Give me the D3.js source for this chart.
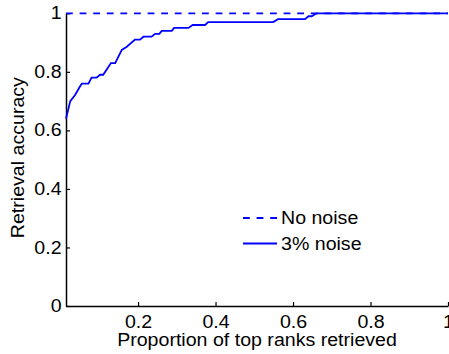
<!DOCTYPE html>
<html>
<head>
<meta charset="utf-8">
<script src="https://cdn.jsdelivr.net/npm/d3@7"></script>
<style>
  body { margin: 0; background: #fff; }
  text { font-family: "Liberation Sans", Arial, sans-serif; }
</style>
</head>
<body>
<div id="chart"></div>
<script>
// proportion of top ranks retrieved (x) and retrieval accuracy with 3% noise (y)
const proportion = [0.014, 0.025, 0.037, 0.050, 0.055, 0.072, 0.080, 0.093, 0.102, 0.110,
    0.130, 0.141, 0.158, 0.171, 0.192, 0.205, 0.214, 0.235, 0.244, 0.255,
    0.261, 0.287, 0.293, 0.330, 0.341, 0.373, 0.381, 0.549, 0.561, 0.631,
    0.640, 0.648, 0.661, 1.000];
const noisyAcc = [0.64, 0.70, 0.72, 0.75, 0.76, 0.76, 0.78, 0.78, 0.79, 0.79,
    0.83, 0.83, 0.875, 0.886, 0.91, 0.91, 0.92, 0.92, 0.93, 0.93,
    0.94, 0.94, 0.95, 0.95, 0.96, 0.96, 0.97, 0.97, 0.98, 0.98,
    0.99, 0.99, 1.00, 1.00];
// no noise: perfect accuracy everywhere
const cleanX = [0.014, 1.0];
const cleanAcc = [1.0, 1.0];

const xTicks = [0.2, 0.4, 0.6, 0.8, 1];
const yTicks = [0, 0.2, 0.4, 0.6, 0.8, 1];
const seriesNames = ["No noise", "3% noise"];

const W = 449, H = 354;
const margin = {top: 13.3, right: 1, bottom: 48, left: 66};
const width = W - margin.left - margin.right,
      height = H - margin.top - margin.bottom;

const svg = d3.select("#chart").append("svg")
    .attr("width", W)
    .attr("height", H);

const g = svg.append("g")
    .attr("transform", `translate(${margin.left},${margin.top})`);

const x = d3.scaleLinear().domain([0.014, 1]).range([0, width]);
const y = d3.scaleLinear().domain([0, 1]).range([height, 0]);

const fontSize = 17.5;
const stretch = 1.12; // the original glyphs are a bit wider than Arial
const blue = "#0000ff";

// axes, ticks pointing inward like matlab
const xAxis = g.append("g")
    .attr("transform", `translate(0,${height})`)
    .call(d3.axisBottom(x).tickValues(xTicks).tickFormat(d3.format("")).tickSizeInner(-4).tickSizeOuter(0).tickPadding(10));
const yAxis = g.append("g")
    .call(d3.axisLeft(y).tickValues(yTicks).tickFormat(d3.format("")).tickSizeInner(-4).tickSizeOuter(0).tickPadding(4));

[xAxis, yAxis].forEach(a => {
    a.select(".domain").attr("stroke", "#000").attr("stroke-width", 1.5);
    a.selectAll(".tick line").attr("stroke", "#000").attr("stroke-width", 1.2);
    a.selectAll(".tick text").attr("fill", "#000").style("font-size", fontSize + "px")
        .style("font-family", "'Liberation Sans', Arial, sans-serif")
        .attr("transform", `scale(${stretch},1)`);
});

const line = d3.line().x(d => x(d[0])).y(d => y(d[1]));

g.append("path")
    .datum(d3.zip(proportion, noisyAcc))
    .attr("fill", "none")
    .attr("stroke", blue)
    .attr("stroke-width", 1.8)
    .attr("d", line);

g.append("path")
    .datum(d3.zip(cleanX, cleanAcc))
    .attr("fill", "none")
    .attr("stroke", blue)
    .attr("stroke-width", 1.8)
    .attr("stroke-dasharray", "6.8,6.8")
    .attr("d", line);

// axis labels
svg.append("text")
    .attr("transform", `translate(${margin.left + width / 2},346) scale(${stretch},1)`)
    .attr("text-anchor", "middle")
    .style("font-size", fontSize + "px")
    .text("Proportion of top ranks retrieved");

svg.append("text")
    .attr("transform", `translate(24,${margin.top + height / 2 - 2}) rotate(-90) scale(${stretch},1)`)
    .attr("text-anchor", "middle")
    .style("font-size", fontSize + "px")
    .text("Retrieval accuracy");

// legend
const legend = svg.append("g").attr("transform", "translate(243,218)");
seriesNames.forEach((name, i) => {
    const row = legend.append("g").attr("transform", `translate(0,${i * 25.5})`);
    row.append("line")
        .attr("x1", 0).attr("x2", 34)
        .attr("stroke", blue)
        .attr("stroke-width", 1.8)
        .attr("stroke-dasharray", i === 0 ? "6.8,6.8" : null);
    row.append("text")
        .attr("transform", `translate(38,0) scale(${stretch},1)`)
        .attr("dy", "0.35em")
        .style("font-size", fontSize + "px")
        .text(name);
});
</script>
</body>
</html>
